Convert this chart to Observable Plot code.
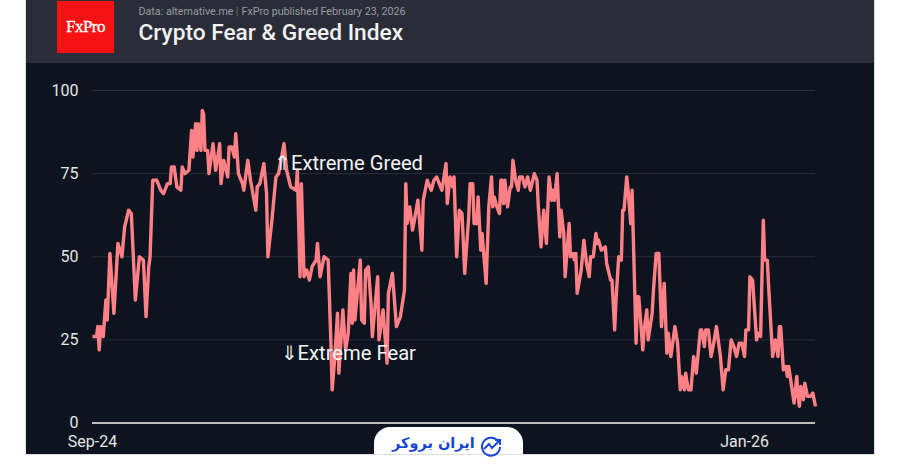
<!DOCTYPE html>
<html><head><meta charset="utf-8">
<script src="https://cdn.jsdelivr.net/npm/d3@7"></script>
<script src="https://cdn.jsdelivr.net/npm/@observablehq/plot@0.6"></script>
<style>
html,body{margin:0;padding:0;background:#fff;width:900px;height:471px;overflow:hidden;font-family:Roboto,sans-serif}
#panel{position:absolute;left:26px;top:0;width:848px;height:454px;background:#0d1420;box-shadow:0 0 0 .6px #c8c9cf}
#head{position:absolute;left:26px;top:0;width:848px;height:63px;background:#2a2d37}
#logo{position:absolute;left:57px;top:1px;width:57px;height:52px;background:#f61212;color:#fff;font:400 17px "Liberation Serif",serif;-webkit-text-stroke:.3px #fff;display:flex;align-items:center;justify-content:center;letter-spacing:-.5px}
.sub{position:absolute;top:5px;font-size:10.7px;line-height:14px;color:#9a9ca3;white-space:nowrap}
#title{position:absolute;left:138.5px;top:19px;font-size:22.7px;line-height:27px;font-weight:500;color:#f2f2f2;white-space:nowrap}
#chart{position:absolute;left:0;top:0}
#tab{position:absolute;left:374px;top:427px;width:149px;height:27px;background:#fff;border-radius:16px 16px 0 0;color:#1546d8}
#tab svg{position:absolute;left:106px;top:8px}
#tab span{position:absolute;left:18px;top:8px;font:700 14.5px "DejaVu Sans",sans-serif;direction:rtl;white-space:nowrap}
</style></head><body>
<div id="panel"></div><div id="head"></div>
<div id="logo">FxPro</div>
<div class="sub" style="left:138.5px">Data: alternative.me</div>
<div class="sub" style="left:235.8px;opacity:.6">|</div>
<div class="sub" style="left:241.5px">FxPro published February 23, 2026</div>
<div id="title">Crypto Fear &amp; Greed Index</div>
<div id="chart"></div>
<div id="tab">
<svg width="22" height="22" viewBox="0 0 22 22" fill="none" stroke="#1546d8" stroke-width="2"><path d="M18 6A9 9 0 1 0 20 12"/><path d="M4 14l5-5 3 4 7-7M15 5h5v5"/></svg>
<span>ایران بروکر</span></div>
<script>
const startDate = new Date(Date.UTC(2024, 8, 1));
const endDate = new Date(Date.UTC(2026, 1, 23));
const dayOffsets = [0,3,4,5,6,8,10,11,13,16,19,22,24,27,29,32,35,38,40,42,43,45,48,51,53,56,58,59,61,63,66,67,69,72,74,75,77,78,79,81,82,83,84,86,87,90,92,95,96,98,101,102,104,106,107,109,112,113,116,118,122,123,125,128,130,131,134,137,139,143,145,148,152,153,155,156,158,160,162,164,167,168,170,173,176,178,179,181,183,184,187,189,191,193,194,195,196,200,201,203,204,206,208,209,213,214,217,220,221,224,227,230,233,234,235,237,239,240,243,246,247,250,253,255,257,261,264,265,267,269,270,272,274,276,278,281,282,284,285,287,288,290,291,294,296,298,299,300,302,304,305,306,307,308,310,312,313,314,316,318,319,321,323,325,327,330,332,333,335,337,339,341,343,344,345,347,349,350,352,353,356,357,359,360,361,362,365,367,369,371,372,374,376,377,378,380,383,384,387,388,390,391,393,395,396,397,399,400,402,403,406,407,408,411,412,414,415,418,419,421,423,425,427,429,430,432,435,437,439,440,442,443,445,447,449,451,454,455,457,458,460,462,464,466,469,471,473,475,477,479,481,483,485,487,488,490,491,493,496,497,499,501,502,504,505,508,510,512,513,514,516,518,519,520,524,526,527,528,529,531,532,534,536,538,540];
const fearGreed = [26,26,29,22,29,26,37,31,51,33,54,50,59,64,63,37,50,49,32,47,50,73,73,70,69,72,72,77,77,71,70,77,75,76,88,80,90,82,90,82,94,93,82,82,75,84,76,84,72,79,74,83,83,80,87,75,72,70,79,73,64,71,72,78,69,50,61,74,75,84,76,71,70,76,44,72,44,46,43,47,49,54,44,50,49,25,10,20,33,15,34,22,27,45,30,46,31,49,31,30,46,47,36,26,44,25,34,18,39,45,29,32,40,72,60,65,58,60,67,52,67,73,70,73,74,70,78,66,74,71,74,50,64,63,45,62,72,72,60,60,68,52,57,42,65,74,65,68,65,63,73,73,66,73,65,71,71,79,73,70,74,74,71,74,70,75,73,65,53,64,54,74,67,70,67,75,56,64,57,44,60,50,51,49,51,39,46,55,48,44,50,50,57,54,55,52,53,48,43,43,28,37,50,49,64,64,74,70,60,70,24,38,38,22,28,34,25,33,40,51,51,29,42,21,27,20,29,24,10,14,10,15,10,10,20,15,28,28,23,28,28,20,24,29,20,10,16,16,25,23,20,24,24,20,28,28,44,43,25,27,26,61,49,49,41,20,25,20,29,29,16,17,14,17,6,14,8,5,11,7,12,8,8,9,5];
const yTicks = [0,25,50,75,100];
const xTickDates = [new Date(Date.UTC(2024,8,1)), new Date(Date.UTC(2026,0,1))];
const xTickLabels = ["Sep-24","Jan-26"];
const notes = [
  {text:"⇑Extreme Greed", day:135.5, value:78},
  {text:"⇓Extreme Fear", day:140.5, value:21}
];
const series = dayOffsets.map((d,i)=>({date:d3.utcDay.offset(startDate,d), value:fearGreed[i]}));
const noteRows = notes.map(n=>({...n, date:new Date(+startDate + n.day*864e5)}));
const plot = Plot.plot({
  width:900, height:471,
  marginLeft:92, marginRight:85, marginTop:90, marginBottom:48.5,
  style:{background:"transparent", fontFamily:"Roboto, sans-serif"},
  x:{type:"utc", domain:[startDate,endDate]},
  y:{domain:[0,100]},
  marks:[
    Plot.ruleY(yTicks.filter(t=>t>0),{stroke:"#2a2d37",strokeWidth:1}),
    Plot.lineY(series,{x:"date",y:"value",stroke:"#ff8085",strokeWidth:3.4,strokeLinejoin:"round",strokeLinecap:"butt"}),
    Plot.ruleY([0],{stroke:"#bdbdbd",strokeWidth:2}),
    Plot.axisY({ticks:yTicks,tickSize:0,tickPadding:14,fontSize:16,label:null,color:"#e6e6e6"}),
    Plot.axisX({ticks:xTickDates,tickSize:0,tickPadding:12.5,fontSize:16,label:null,color:"#e6e6e6",tickFormat:(d)=>xTickLabels[xTickDates.findIndex(t=>+t===+d)]}),
    Plot.text(noteRows,{x:"date",y:"value",text:"text",textAnchor:"start",fill:"#f4f4f4",fontSize:20.2})
  ]
});
document.getElementById("chart").appendChild(plot);
</script>
</body></html>
